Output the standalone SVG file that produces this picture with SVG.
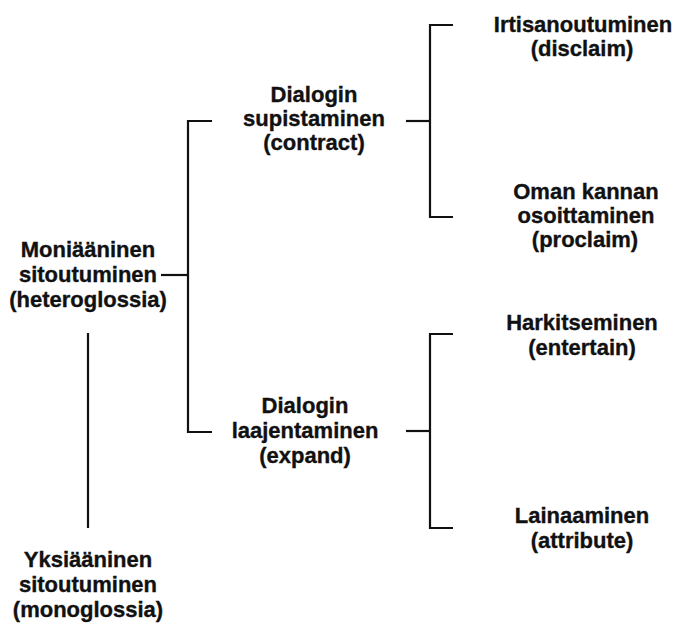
<svg xmlns="http://www.w3.org/2000/svg" width="677" height="624" viewBox="0 0 677 624">
<style>
  text { font-family: "Liberation Sans", Arial, sans-serif; font-weight: bold; font-size: 22px; fill: #111; stroke: #111; stroke-width: 0.35; text-anchor: middle; }
  .ln { fill: none; stroke: #111; stroke-width: 2.2; }
</style>
<rect width="677" height="624" fill="#fff"/>
<g id="connectors">
  <line class="ln" x1="161" y1="275" x2="188" y2="275"/>
  <path class="ln" d="M212,121 H188 V432 H212"/>
  <line class="ln" x1="406" y1="121" x2="430" y2="121"/>
  <path class="ln" d="M453,25 H430 V217 H453"/>
  <line class="ln" x1="406" y1="431" x2="430" y2="431"/>
  <path class="ln" d="M453,334 H430 V528 H453"/>
  <line class="ln" x1="88" y1="333" x2="88" y2="528"/>
</g>
<g id="heteroglossia">
  <text x="88" y="257">Moniääninen</text>
  <text x="88" y="282">sitoutuminen</text>
  <text x="88" y="307">(heteroglossia)</text>
</g>
<g id="monoglossia">
  <text x="88" y="567">Yksiääninen</text>
  <text x="88" y="592">sitoutuminen</text>
  <text x="88" y="617">(monoglossia)</text>
</g>
<g id="contract">
  <text x="314" y="102">Dialogin</text>
  <text x="314" y="126">supistaminen</text>
  <text x="314" y="150">(contract)</text>
</g>
<g id="expand">
  <text x="305" y="413">Dialogin</text>
  <text x="305" y="438">laajentaminen</text>
  <text x="305" y="463">(expand)</text>
</g>
<g id="disclaim">
  <text x="583" y="32">Irtisanoutuminen</text>
  <text x="582" y="56">(disclaim)</text>
</g>
<g id="proclaim">
  <text x="586" y="199">Oman kannan</text>
  <text x="586" y="223">osoittaminen</text>
  <text x="585" y="247">(proclaim)</text>
</g>
<g id="entertain">
  <text x="582" y="330">Harkitseminen</text>
  <text x="582" y="355">(entertain)</text>
</g>
<g id="attribute">
  <text x="582" y="523">Lainaaminen</text>
  <text x="582" y="548">(attribute)</text>
</g>
</svg>
